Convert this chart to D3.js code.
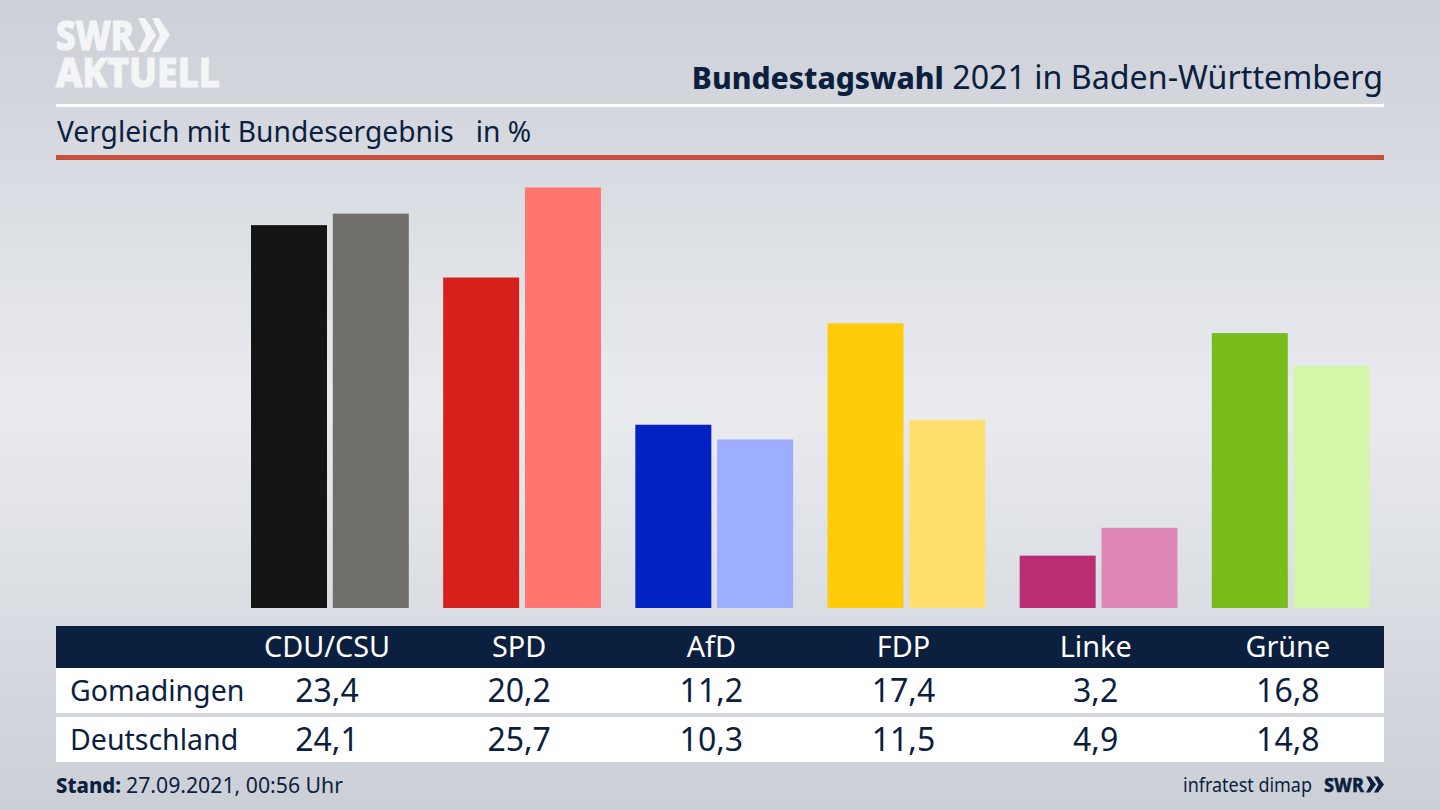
<!DOCTYPE html>
<html>
<head>
<meta charset="utf-8">
<script src="https://cdn.jsdelivr.net/npm/d3@7"></script>
<style>
html,body{margin:0;padding:0;overflow:hidden;background:#d5d8de;}
svg{display:block;}
text{font-family:"Noto Sans","Open Sans",sans-serif;}
</style>
</head>
<body>
<svg id="chart" width="1440" height="810"></svg>
<script>
var parties = ["CDU/CSU","SPD","AfD","FDP","Linke","Grüne"];
var regions = ["Gomadingen","Deutschland"];
var gomadingen = [23.4,20.2,11.2,17.4,3.2,16.8];
var deutschland = [24.1,25.7,10.3,11.5,4.9,14.8];
var colorsLocal = ["#141414","#d6201c","#0322c4","#ffcc0a","#bb2e74","#78bc1b"];
var colorsFederal = ["#706f6c","#ff7570","#9dadff","#ffe06e","#df88b8","#d3f6a8"];

var navy = "#0b1f3f";
var logoWhite = "#f4f5f7";
var svg = d3.select("#chart");

// background
var grad = svg.append("defs").append("linearGradient").attr("id","bg").attr("x1",0).attr("x2",0).attr("y1",0).attr("y2",1);
grad.append("stop").attr("offset","0%").attr("stop-color","#ccd0d7");
grad.append("stop").attr("offset","50%").attr("stop-color","#e9ebef");
grad.append("stop").attr("offset","100%").attr("stop-color","#cbcfd6");
svg.append("rect").attr("width",1440).attr("height",810).attr("fill","url(#bg)");

// logo
var chev = "M0,0 L7,0 L18,17 L7,34 L0,34 L8,17 Z";
svg.append("text").attr("x",56).attr("y",50).attr("fill",logoWhite).attr("stroke",logoWhite).attr("stroke-width",1.2).attr("font-size",41).attr("font-weight",800).attr("textLength",78).attr("lengthAdjust","spacingAndGlyphs").text("SWR");
svg.append("path").attr("d",chev).attr("transform","translate(138,18)").attr("fill",logoWhite);
svg.append("path").attr("d",chev).attr("transform","translate(152,18)").attr("fill",logoWhite);
svg.append("text").attr("x",56).attr("y",87).attr("fill",logoWhite).attr("stroke",logoWhite).attr("stroke-width",1.2).attr("font-size",41).attr("font-weight",800).attr("textLength",164).attr("lengthAdjust","spacingAndGlyphs").text("AKTUELL");

// title
var title = svg.append("text").attr("x",1383).attr("y",89).attr("text-anchor","end").attr("fill",navy).attr("font-size",32.2);
title.append("tspan").attr("font-weight",800).attr("font-size",30).text("Bundestagswahl");
title.append("tspan").text(" 2021 in Baden-Württemberg");

svg.append("rect").attr("x",56).attr("y",104).attr("width",1328).attr("height",3).attr("fill","#fff");
svg.append("text").attr("x",57).attr("y",142).attr("fill",navy).attr("font-size",28.2).attr("xml:space","preserve").text("Vergleich mit Bundesergebnis   in %");
svg.append("rect").attr("x",56).attr("y",155).attr("width",1328).attr("height",5).attr("fill","#c84f3e");

// bars
var x = d3.scaleBand().domain(parties).range([251,1404]).paddingInner(0).paddingOuter(0);
var y = d3.scaleLinear().domain([0,25.7]).range([608,187.5]);
var barW = 76, gap = 5.8;

svg.append("g").selectAll("rect").data(parties).join("rect")
  .attr("x",function(d){return x(d);})
  .attr("y",function(d,i){return y(gomadingen[i]);})
  .attr("width",barW)
  .attr("height",function(d,i){return y(0)-y(gomadingen[i]);})
  .attr("fill",function(d,i){return colorsLocal[i];});

svg.append("g").selectAll("rect").data(parties).join("rect")
  .attr("x",function(d){return x(d)+barW+gap;})
  .attr("y",function(d,i){return y(deutschland[i]);})
  .attr("width",barW)
  .attr("height",function(d,i){return y(0)-y(deutschland[i]);})
  .attr("fill",function(d,i){return colorsFederal[i];});

// table
svg.append("rect").attr("x",56).attr("y",626).attr("width",1328).attr("height",42).attr("fill",navy);
svg.append("rect").attr("x",56).attr("y",668).attr("width",1328).attr("height",45).attr("fill","#fff");
svg.append("rect").attr("x",56).attr("y",717).attr("width",1328).attr("height",45).attr("fill","#fff");

function cx(d){return x(d)+barW;}
svg.append("g").selectAll("text").data(parties).join("text")
  .attr("x",cx).attr("y",657).attr("text-anchor","middle").attr("fill","#fff").attr("font-size",28.8).text(function(d){return d;});

var rows = [gomadingen,deutschland];
var rowY = [701,750];
rows.forEach(function(row,r){
  svg.append("text").attr("x",70).attr("y",rowY[r]).attr("fill",navy).attr("font-size",28.5).text(regions[r]);
  svg.append("g").selectAll("text").data(parties).join("text")
    .attr("x",cx).attr("y",rowY[r]+1).attr("text-anchor","middle").attr("fill",navy).attr("font-size",32)
    .text(function(d,i){return row[i].toFixed(1).replace(".",",");});
});

// footer
var stand = svg.append("text").attr("x",56).attr("y",793).attr("fill",navy).attr("font-size",21);
stand.append("tspan").attr("font-weight",800).attr("textLength",65).attr("lengthAdjust","spacingAndGlyphs").text("Stand:");
stand.append("tspan").attr("dx",5).attr("textLength",217).attr("lengthAdjust","spacingAndGlyphs").text("27.09.2021, 00:56 Uhr");
svg.append("text").attr("x",1183).attr("y",792).attr("fill",navy).attr("font-size",20).attr("textLength",129).attr("lengthAdjust","spacingAndGlyphs").text("infratest dimap");
svg.append("text").attr("x",1324).attr("y",792).attr("fill",navy).attr("stroke",navy).attr("stroke-width",0.4).attr("font-size",20).attr("font-weight",800).attr("textLength",40).attr("lengthAdjust","spacingAndGlyphs").text("SWR");
var chevS = "M0,0 L4,0 L10,8 L4,16 L0,16 L4.5,8 Z";
svg.append("path").attr("d",chevS).attr("transform","translate(1366,776.5)").attr("fill",navy);
svg.append("path").attr("d",chevS).attr("transform","translate(1374,776.5)").attr("fill",navy);
</script>
</body>
</html>
